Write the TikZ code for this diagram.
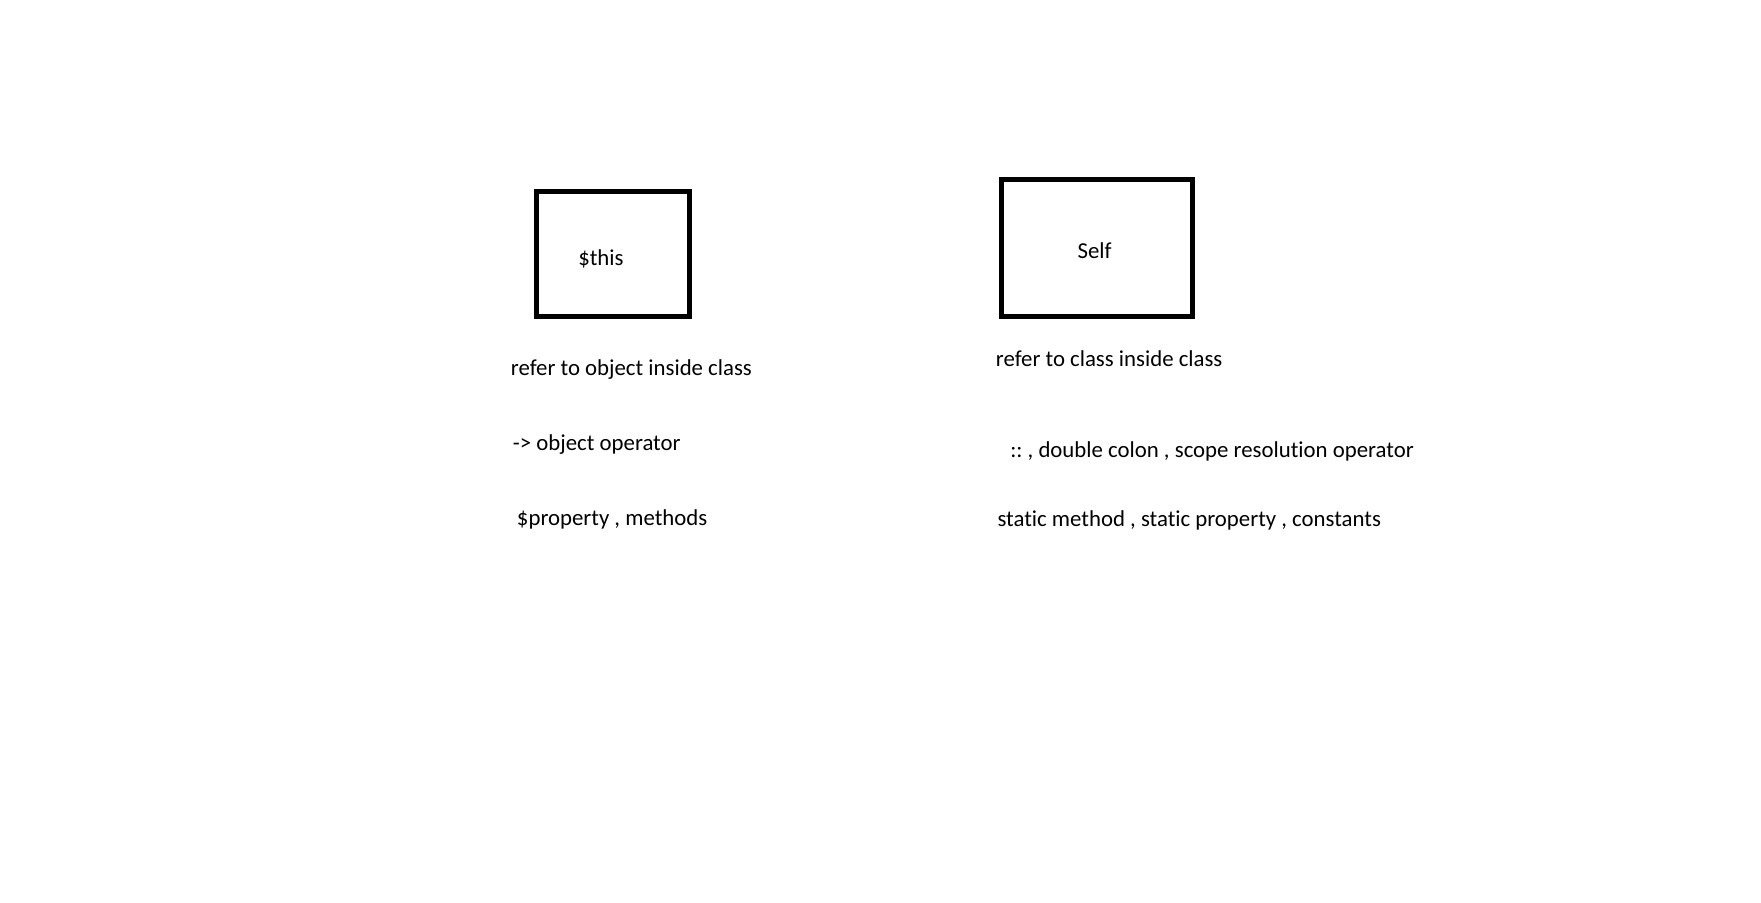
\documentclass[tikz,border=0pt]{standalone}
\usepackage{fontspec}
\setmainfont[Ligatures={NoCommon}]{Carlito}
\frenchspacing
\usepackage{tikz}
\usetikzlibrary{positioning}
\tikzstyle{keyword} = [rectangle, draw, line width=3.75pt, fill=white]
\tikzstyle{caption} = [inner sep=0pt, anchor=base west, font=\fontsize{17.1}{20}\selectfont]
\tikzstyle{note} = [inner sep=0pt, anchor=base west, font=\fontsize{17.1}{20}\selectfont]

\begin{document}
\begin{tikzpicture}[x=0.75pt, y=-0.75pt]
    \useasboundingbox (0,0) rectangle (1761,903);

    \node[keyword, minimum width=115.1pt, minimum height=93.75pt] (thisBox) at (613.25,253.5) {};
    \node[keyword, minimum width=143.25pt, minimum height=102.75pt] (selfBox) at (1097,247.8) {};

    \node[caption] (thisName) at (578,265) {\$this};
    \node[caption] (selfName) at (1077.3,258.3) {Self};

    \node[note] (thisRefer) at (510.7,375.7) {refer to object inside class};
    \node[note] (thisOperator) at (512.7,450) {-> object operator};
    \node[note] (thisMembers) at (516.7,525) {\$property , methods};

    \node[note] (selfRefer) at (995.7,366) {refer to class inside class};
    \node[note] (selfOperator) at (1010,457.7) {:: , double colon , scope resolution operator};
    \node[note] (selfMembers) at (997.3,526) {static method , static property , constants};
  \end{tikzpicture}
\end{document}
